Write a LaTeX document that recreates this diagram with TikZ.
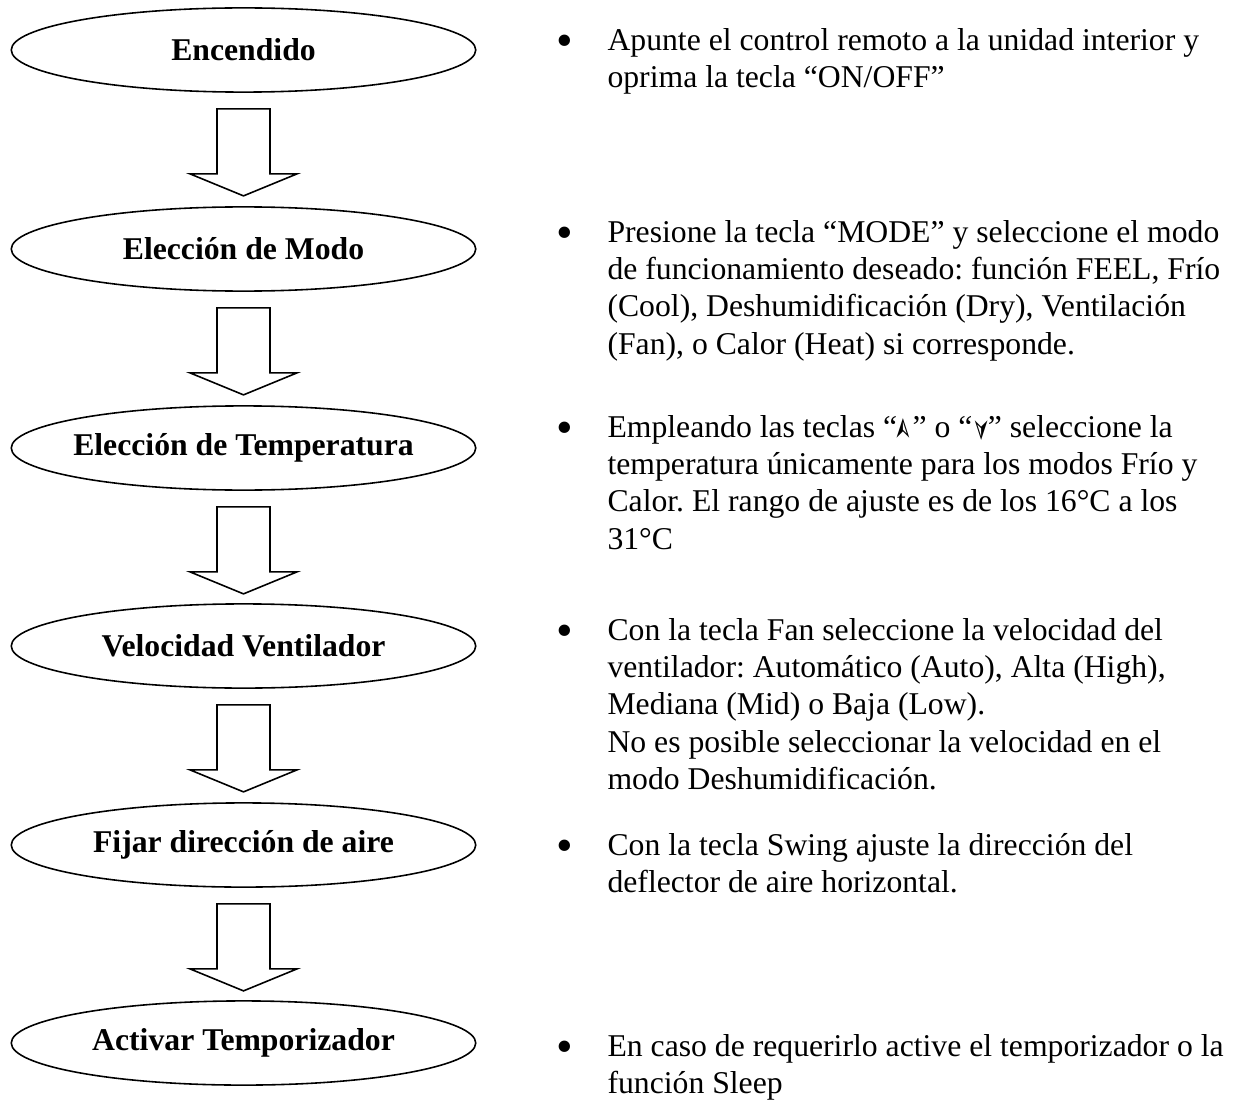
\documentclass[tikz,border=0pt]{standalone}
\usepackage{fontspec}
\usepackage{graphicx}
\setmainfont{Liberation Serif}
\newfontfamily\symfont{DejaVu Sans}
\usetikzlibrary{shapes.geometric,calc}
\frenchspacing

\newcommand{\teclaup}{\rotatebox[origin=c]{90}{\symfont\fontsize{11}{11}\selectfont ➣}}
\newcommand{\tecladown}{\rotatebox[origin=c]{-90}{\symfont\fontsize{11}{11}\selectfont ➣}}

\begin{document}
\begin{tikzpicture}[
x=0.0133cm, y=-0.0133cm,
every node/.style={font=\fontsize{12}{14.1}\selectfont, inner sep=0pt},
stepbox/.style={ellipse, draw, line width=0.6pt, minimum width=6.18cm, minimum height=1.12cm,
  inner xsep=-2cm, font=\fontsize{12}{14.1}\selectfont\bfseries},
blockarrow/.style={draw, line width=0.6pt, line join=miter},
note/.style={anchor=north west, align=left},
dot/.style={font=\fontsize{18}{18}\selectfont, anchor=center}
]

    \useasboundingbox (0,0) rectangle (1240,1100);

    % Steps
    \node[stepbox] (enc)   at (243.5,50)   {Encendido};
    \node[stepbox] (modo)  at (243.5,249)  {Elección de Modo};
    \node[stepbox] (temp)  at (243.5,448)  {Elección de Temperatura};
    \node[stepbox] (vent)  at (243.5,646)  {Velocidad Ventilador};
    \node[stepbox] (aire)  at (243.5,845)  {Fijar dirección de aire};
    \node[stepbox] (timer) at (243.5,1043) {Activar Temporizador};

    % Block arrows
    \foreach \a/\b in {enc/modo, modo/temp, temp/vent, vent/aire, aire/timer} {
        \draw[blockarrow] ($(\a.south)+(-26.5,16)$) -- ++(0,65) -- ++(-27,0)
            -- ++(53.5,22) -- ++(53.5,-22) -- ++(-27,0) -- ++(0,-65) -- cycle;
    }

    % Bullets
    \node[dot] (bEnc)   at (565,46)   {•};
    \node[dot] (bModo)  at (565,238)  {•};
    \node[dot] (bTemp)  at (565,433)  {•};
    \node[dot] (bVent)  at (565,636)  {•};
    \node[dot] (bAire)  at (565,851)  {•};
    \node[dot] (bTimer) at (565,1052) {•};

    % Notes
    \node[note] (nEnc) at (607,23.8)
    {\strut Apunte el control remoto a la unidad interior y\\
    oprima la tecla “ON/OFF”};

    \node[note] (nModo) at (607,215.8)
    {\strut Presione la tecla “MODE” y seleccione el modo\\
    de funcionamiento deseado: función FEEL, Frío\\
    (Cool), Deshumidificación (Dry), Ventilación\\
    (Fan), o Calor (Heat) si corresponde.};

    \node[note] (nTemp) at (607,410.8)
    {\strut Empleando las teclas “\teclaup” o “\tecladown” seleccione la\\
    temperatura únicamente para los modos Frío y\\
    Calor. El rango de ajuste es de los 16°C a los\\
    31°C};

    \node[note] (nVent) at (607,613.8)
    {\strut Con la tecla Fan seleccione la velocidad del\\
    ventilador: Automático (Auto), Alta (High),\\
    Mediana (Mid) o Baja (Low).\\
    No es posible seleccionar la velocidad en el\\
    modo Deshumidificación.};

    \node[note] (nAire) at (607,828.8)
    {\strut Con la tecla Swing ajuste la dirección del\\
    deflector de aire horizontal.};

    \node[note] (nTimer) at (607,1029.8)
    {\strut En caso de requerirlo active el temporizador o la\\
    función Sleep};

\end{tikzpicture}
\end{document}
